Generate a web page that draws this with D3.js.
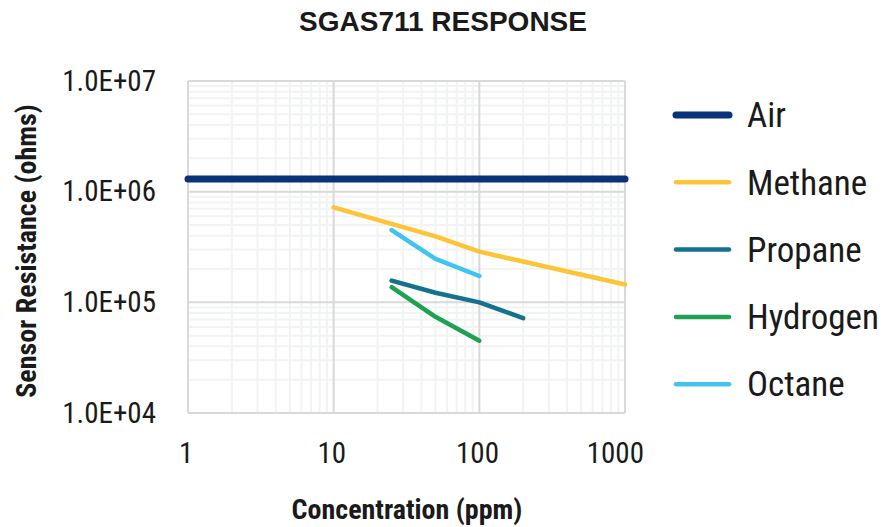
<!DOCTYPE html>
<html>
<head>
<meta charset="utf-8">
<script src="https://cdn.jsdelivr.net/npm/d3@7"></script>
<style>
  body { margin: 0; background: #fff; }
  text { font-family: "Liberation Sans Narrow", "Arial Narrow", "Roboto Condensed", sans-serif; fill: #1a1a1a; }
</style>
</head>
<body>
<div id="chart-area"></div>
<script>
var width = 882;
var height = 527;
var margin = {top: 81, right: 257, bottom: 114, left: 188};

// data
var seriesNames = ["Air", "Methane", "Propane", "Hydrogen", "Octane"];
var colors = ["#08327a", "#fec438", "#14728f", "#1fa154", "#40c4ef"];
var widths = [7, 4.5, 4.5, 4.5, 4.5];

var airX = [1, 2.5, 5, 10, 25, 50, 100, 200, 500, 1000];
var airY = [1.3e6, 1.3e6, 1.3e6, 1.3e6, 1.3e6, 1.3e6, 1.3e6, 1.3e6, 1.3e6, 1.3e6];
var methaneX = [10, 50, 100, 1000];
var methaneY = [7.2e5, 3.95e5, 2.87e5, 1.45e5];
var propaneX = [25, 50, 100, 200];
var propaneY = [1.57e5, 1.22e5, 1.0e5, 7.2e4];
var hydrogenX = [25, 50, 100];
var hydrogenY = [1.37e5, 7.4e4, 4.5e4];
var octaneX = [25, 50, 100];
var octaneY = [4.5e5, 2.47e5, 1.73e5];

var xTicks = [1, 10, 100, 1000];
var yTicks = [1e4, 1e5, 1e6, 1e7];
var yTickLabels = ["1.0E+04", "1.0E+05", "1.0E+06", "1.0E+07"];

var allX = [airX, methaneX, propaneX, hydrogenX, octaneX];
var allY = [airY, methaneY, propaneY, hydrogenY, octaneY];

var series = seriesNames.map((name, i) => {
	return {
		name: name,
		color: colors[i],
		sw: widths[i],
		values: allX[i].map((x, j) => ({x: x, y: allY[i][j]}))
	};
});

var w = width - margin.left - margin.right;
var h = height - margin.top - margin.bottom;

var svg = d3.select("#chart-area").append("svg")
	.attr("width", width)
	.attr("height", height);

var g = svg.append("g")
	.attr("transform", "translate(" + margin.left + ", " + margin.top + ")");

var x = d3.scaleLog().domain([1, 1000]).range([0, w]);
var y = d3.scaleLog().domain([1e4, 1e7]).range([h, 0]);

// minor grid
var minorX = [];
for (var d = 1; d < 1000; d *= 10) for (var k = 2; k <= 9; k++) minorX.push(d * k);
var minorY = [];
for (var d2 = 1e4; d2 < 1e7; d2 *= 10) for (var k2 = 2; k2 <= 9; k2++) minorY.push(d2 * k2);

g.selectAll(".minor-x").data(minorX).enter().append("line")
	.attr("x1", d => x(d)).attr("x2", d => x(d))
	.attr("y1", 0).attr("y2", h)
	.attr("stroke", "#f2f3f3").attr("stroke-width", 2);
g.selectAll(".minor-y").data(minorY).enter().append("line")
	.attr("y1", d => y(d)).attr("y2", d => y(d))
	.attr("x1", 0).attr("x2", w)
	.attr("stroke", "#f2f3f3").attr("stroke-width", 2);

// major grid
g.selectAll(".major-x").data(xTicks).enter().append("line")
	.attr("x1", d => x(d)).attr("x2", d => x(d))
	.attr("y1", 0).attr("y2", h)
	.attr("stroke", "#d9d9d9").attr("stroke-width", 2);
g.selectAll(".major-y").data(yTicks).enter().append("line")
	.attr("y1", d => y(d)).attr("y2", d => y(d))
	.attr("x1", 0).attr("x2", w)
	.attr("stroke", "#d9d9d9").attr("stroke-width", 2);

// axes (labels only)
var bottomAxis = d3.axisBottom(x).tickValues(xTicks).tickFormat(d3.format("d")).tickSize(0).tickPadding(29);
g.append("g")
	.attr("class", "bottomAxis")
	.attr("transform", "translate(0, " + h + ")")
	.call(bottomAxis)
	.call(a => a.select(".domain").remove())
	.selectAll("text")
	.attr("font-size", "29px")
	.attr("dx", (d, i) => (i == xTicks.length - 1 ? "-0.35em" : "-0.08em"));

var leftAxis = d3.axisLeft(y).tickValues(yTicks).tickFormat((d, i) => yTickLabels[i]).tickSize(0).tickPadding(32);
g.append("g")
	.attr("class", "leftAxis")
	.call(leftAxis)
	.call(a => a.select(".domain").remove())
	.selectAll("text")
	.attr("font-size", "29px");
svg.selectAll(".tick text").attr("font-family", null).attr("fill", "#1a1a1a");

// lines
var line = d3.line().x(d => x(d.x)).y(d => y(d.y));
g.selectAll(".series").data(series).enter().append("path")
	.attr("fill", "none")
	.attr("stroke", d => d.color)
	.attr("stroke-width", d => d.sw)
	.attr("stroke-linecap", "round")
	.attr("stroke-linejoin", "round")
	.attr("d", d => line(d.values));

// legend
var legend = svg.append("g").attr("transform", "translate(676, 115)");
var items = legend.selectAll("g").data(series).enter().append("g")
	.attr("transform", (d, i) => "translate(0," + (i * 67.3) + ")");
items.append("line")
	.attr("x1", 0).attr("x2", 53).attr("y1", 0).attr("y2", 0)
	.attr("stroke", d => d.color)
	.attr("stroke-width", d => d.sw)
	.attr("stroke-linecap", "round");
items.append("text")
	.attr("x", 71).attr("y", 0).attr("dy", "0.35em")
	.attr("font-size", "35px")
	.text(d => d.name);

// titles
svg.append("text")
	.attr("x", 443).attr("y", 31)
	.attr("text-anchor", "middle")
	.attr("font-size", "28px")
	.attr("font-weight", "bold")
	.style("font-family", "'Liberation Sans', Arial, sans-serif")
	.text("SGAS711 RESPONSE");

svg.append("text")
	.attr("x", 407).attr("y", 519)
	.attr("text-anchor", "middle")
	.attr("font-size", "28px")
	.attr("font-weight", "bold")
	.text("Concentration (ppm)");

svg.append("text")
	.attr("transform", "translate(36, 251) rotate(-90)")
	.attr("text-anchor", "middle")
	.attr("font-size", "28px")
	.attr("font-weight", "bold")
	.text("Sensor Resistance (ohms)");
</script>
</body>
</html>
